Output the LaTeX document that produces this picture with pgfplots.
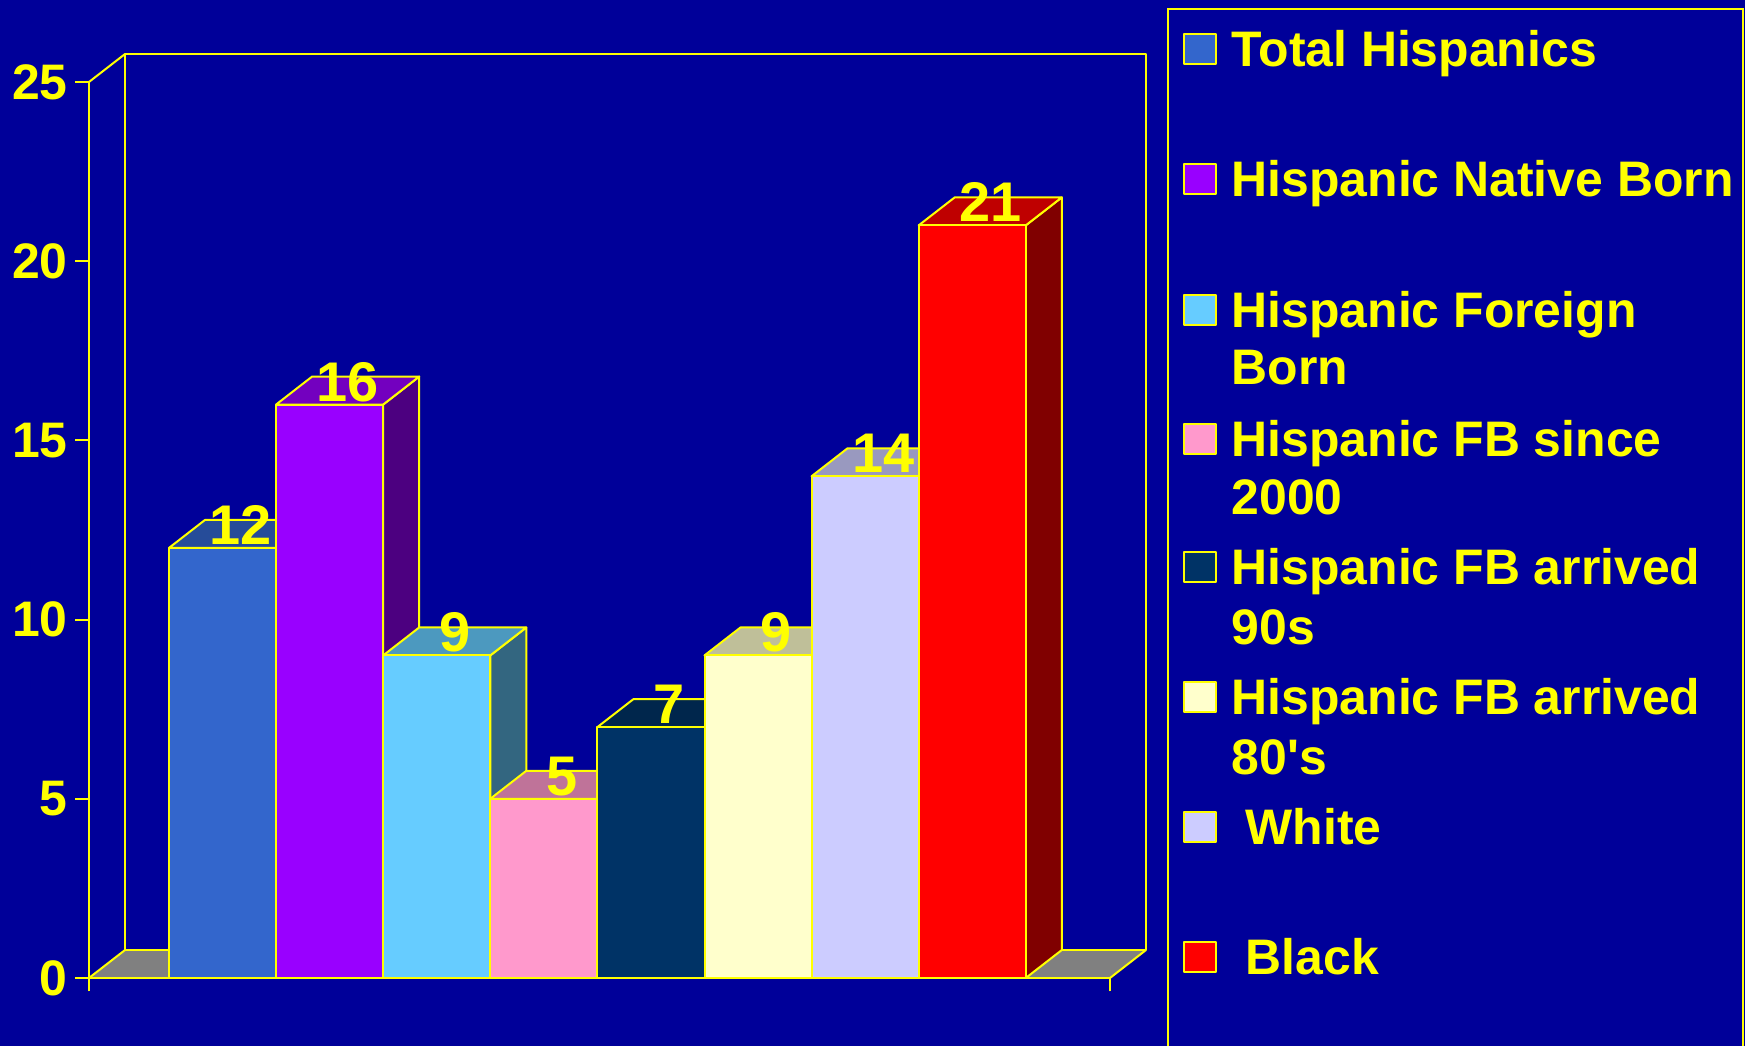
\documentclass[border=0pt]{standalone}
\usepackage{fontspec}
\setmainfont{Liberation Sans}
\usepackage{pgfplots}
\pgfplotsset{compat=1.18}
\definecolor{bgblue}{HTML}{000099}
\definecolor{cA}{HTML}{3366CC}
\definecolor{cB}{HTML}{9900FF}
\definecolor{cC}{HTML}{66CCFF}
\definecolor{cD}{HTML}{FF99CC}
\definecolor{cE}{HTML}{003366}
\definecolor{cF}{HTML}{FFFFCC}
\definecolor{cG}{HTML}{CCCCFF}
\definecolor{cH}{HTML}{FF0000}
\definecolor{floorgray}{HTML}{808080}
\definecolor{ylw}{HTML}{FFFF00}

\tikzset{
  dlabel/.style={font=\bfseries\fontsize{15.9}{18}\selectfont, text=ylw, anchor=base, inner sep=0pt, yshift=0.35mm},
  ltext/.style={font=\bfseries\fontsize{14.2}{16}\selectfont, text=ylw, anchor=base west, inner sep=0pt},
  baredge/.style={draw=ylw, line width=0.2mm, line join=round},
}

\newcommand\threedbar[5]{%
  \pgfmathsetmacro\xa{169+107.1*#1}%
  \pgfmathsetmacro\xb{\xa+107.1}%
  \pgfmathsetmacro\xc{\xa+36}%
  \pgfmathsetmacro\xd{\xb+36}%
  \pgfmathsetmacro\vt{#2+0.78}%
  \edef\temp{%
    \noexpand\addplot[fill=#5,baredge] coordinates {(\xb,0) (\xd,0.78) (\xd,\vt) (\xb,#2)} -- cycle;%
    \noexpand\addplot[fill=#4,baredge] coordinates {(\xa,#2) (\xb,#2) (\xd,\vt) (\xc,\vt)} -- cycle;%
    \noexpand\addplot[fill=#3,baredge] coordinates {(\xa,0) (\xb,0) (\xb,#2) (\xa,#2)} -- cycle;%
  }\temp}

\newcommand\barlabel[2]{%
  \pgfmathsetmacro\xl{169+107.1*#1+53.55+18}%
  \edef\temp{\noexpand\node[dlabel] at (axis cs:\xl,#2) {#2};}\temp}

\begin{document}
\begin{tikzpicture}
\fill[bgblue] (-8.9mm,-6.8mm) rectangle (165.6mm,97.8mm);
\begin{axis}[
  at={(0,0)}, anchor=south west,
  x=0.1mm, y=3.584mm,
  xmin=89, xmax=1110, ymin=0, ymax=25,
  clip=false,
  axis on top,
  axis x line=bottom, axis y line=left,
  axis line style={draw=ylw, line width=0.2mm, -},
  every outer x axis line/.append style={-},
  every outer y axis line/.append style={-},
  ytick={0,5,...,25},
  xtick={89,1110}, xticklabels={,},
  tick align=outside,
  major tick length=1.35mm,
  tick style={draw=ylw, line width=0.2mm},
  yticklabel style={font=\bfseries\fontsize{14.2}{16}\selectfont, text=ylw, xshift=0.45mm},
  /pgf/number format/assume math mode=true,
]
% floor and walls
\addplot[fill=floorgray, draw=none] coordinates {(89,0) (1110,0) (1146,0.78) (125,0.78)} -- cycle;
\addplot[baredge] coordinates {(125,0.78) (125,25.78) (1146,25.78) (1146,0.78)} -- cycle;
\addplot[baredge] coordinates {(89,25) (125,25.78)};
\addplot[baredge] coordinates {(89,0) (125,0.78)};
\addplot[baredge] coordinates {(1110,0) (1146,0.78)};
% bars
\threedbar{0}{12}{cA}{cA!75!black}{cA!50!black}
\threedbar{1}{16}{cB}{cB!75!black}{cB!50!black}
\threedbar{2}{9}{cC}{cC!75!black}{cC!50!black}
\threedbar{3}{5}{cD}{cD!75!black}{cD!50!black}
\threedbar{4}{7}{cE}{cE!75!black}{cE!50!black}
\threedbar{5}{9}{cF}{cF!75!black}{cF!50!black}
\threedbar{6}{14}{cG}{cG!75!black}{cG!50!black}
\threedbar{7}{21}{cH}{cH!75!black}{cH!50!black}
% value labels
\barlabel{0}{12}
\barlabel{1}{16}
\barlabel{2}{9}
\barlabel{3}{5}
\barlabel{4}{7}
\barlabel{5}{9}
\barlabel{6}{14}
\barlabel{7}{21}
% legend
\draw[ylw, line width=0.25mm] (axis cs:1168,-1.897) -- (axis cs:1168,27.037) -- (axis cs:1743,27.037) -- (axis cs:1743,-1.897);
\draw[baredge, fill=cA] (axis cs:1184,25.502) rectangle (axis cs:1216,26.339);
\draw[baredge, fill=cB] (axis cs:1184,21.875) rectangle (axis cs:1216,22.712);
\draw[baredge, fill=cC] (axis cs:1184,18.220) rectangle (axis cs:1216,19.057);
\draw[baredge, fill=cD] (axis cs:1184,14.621) rectangle (axis cs:1216,15.458);
\draw[baredge, fill=cE] (axis cs:1184,11.049) rectangle (axis cs:1216,11.886);
\draw[baredge, fill=cF] (axis cs:1184,7.422) rectangle (axis cs:1216,8.259);
\draw[baredge, fill=cG] (axis cs:1184,3.795) rectangle (axis cs:1216,4.632);
\draw[baredge, fill=cH] (axis cs:1184,0.168) rectangle (axis cs:1216,1.005);
\node[ltext] at (axis cs:1231,25.418) {Total Hispanics};
\node[ltext] at (axis cs:1231,21.791) {Hispanic Native Born};
\node[ltext] at (axis cs:1231,18.136) {Hispanic Foreign};
\node[ltext] at (axis cs:1231,16.546) {Born};
\node[ltext] at (axis cs:1231,14.537) {Hispanic FB since};
\node[ltext] at (axis cs:1231,12.919) {2000};
\node[ltext] at (axis cs:1231,10.965) {Hispanic FB arrived};
\node[ltext] at (axis cs:1231,9.291) {90s};
\node[ltext] at (axis cs:1231,7.338) {Hispanic FB arrived};
\node[ltext] at (axis cs:1231,5.664) {80\textquotesingle s};
\node[ltext] at (axis cs:1245,3.711) {White};
\node[ltext] at (axis cs:1245,0.084) {Black};
\end{axis}
\pgfresetboundingbox
\path[use as bounding box] (-8.9mm,-6.8mm) rectangle (165.6mm,97.8mm);
\end{tikzpicture}
\end{document}
